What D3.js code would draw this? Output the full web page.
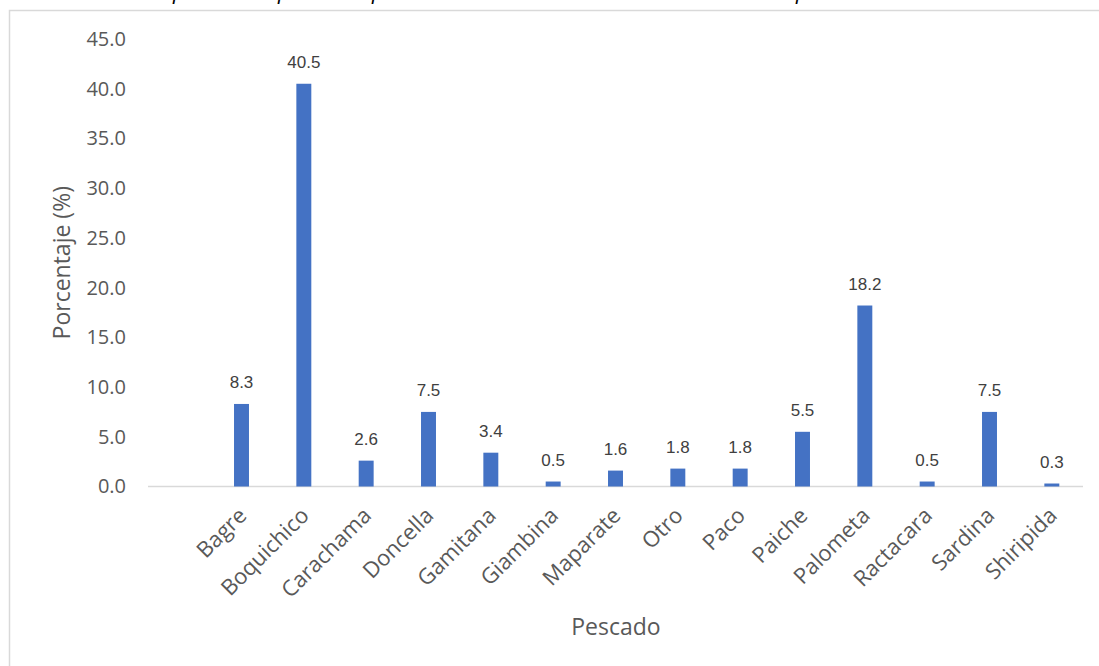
<!DOCTYPE html>
<html>
<head>
<meta charset="utf-8">
<script src="https://cdn.jsdelivr.net/npm/d3@7"></script>
<style>
  body { margin: 0; background: #fff; }
  #chart { width: 1099px; height: 666px; }
</style>
</head>
<body>
<div id="chart"></div>
<script>
// first slot is empty in the original sheet
const categories = ['', 'Bagre', 'Boquichico', 'Carachama', 'Doncella', 'Gamitana', 'Giambina',
    'Maparate', 'Otro', 'Paco', 'Paiche', 'Palometa', 'Ractacara', 'Sardina', 'Shiripida'];
const values = [null, 8.3, 40.5, 2.6, 7.5, 3.4, 0.5, 1.6, 1.8, 1.8, 5.5, 18.2, 0.5, 7.5, 0.3];
const yTicks = [0, 5, 10, 15, 20, 25, 30, 35, 40, 45];
const titleWords = ['preferencia', 'por', 'pescado', 'población'];
const titleX = [173, 278, 372, 796];

const width = 1099, height = 666;
const margin = { top: 39, right: 16, bottom: 179.5, left: 148 };

const svg = d3.select('#chart')
    .append('svg')
    .attr('width', width)
    .attr('height', height);

// chart frame (runs off the right and bottom edges)
svg.append('rect')
    .attr('x', 9.5)
    .attr('y', 10.5)
    .attr('width', 1200)
    .attr('height', 800)
    .attr('fill', 'none')
    .attr('stroke', '#d9d9d9')
    .attr('stroke-width', 1.5);

// cut-off title above the frame, only descenders show
svg.append('text')
    .attr('y', 0)
    .style('font-family', 'Liberation Sans, Arial, sans-serif')
    .style('font-style', 'italic')
    .style('font-size', '20px')
    .style('fill', '#000')
    .selectAll('tspan')
    .data(titleWords)
    .enter()
    .append('tspan')
    .attr('x', (d, i) => titleX[i])
    .text(d => d);

const x = d3.scaleBand()
    .domain(categories)
    .range([margin.left, width - margin.right])
    .padding(0);

const y = d3.scaleLinear()
    .domain([0, 45])
    .range([height - margin.bottom, margin.top]);

const barW = x.bandwidth() * 0.24;
const tickFont = 'Open Sans, sans-serif';

// y axis labels (no line, no gridlines)
const yAxis = svg.append('g')
    .attr('transform', `translate(${margin.left},0)`)
    .call(d3.axisLeft(y).tickValues(yTicks).tickSize(0).tickPadding(22).tickFormat(d3.format('.1f')));
yAxis.select('.domain').remove();
yAxis.selectAll('text')
    .style('font-family', tickFont)
    .style('font-size', '20px')
    .style('fill', '#595959');

// x axis line
svg.append('line')
    .attr('x1', margin.left)
    .attr('x2', width - margin.right)
    .attr('y1', y(0))
    .attr('y2', y(0))
    .attr('stroke', '#d9d9d9')
    .attr('stroke-width', 1.5);

// rotated category labels
svg.append('g')
    .selectAll('text')
    .data(categories)
    .enter()
    .append('text')
    .attr('transform', d => `translate(${x(d) + x.bandwidth() / 2 + 1},${y(0) + 25}) rotate(-45)`)
    .attr('text-anchor', 'end')
    .attr('dy', '0.35em')
    .style('font-family', tickFont)
    .style('font-size', '22px')
    .style('fill', '#595959')
    .text(d => d);

const bars = categories.map((c, i) => ({ cat: c, value: values[i] })).filter(d => d.value != null);

svg.append('g')
    .selectAll('rect')
    .data(bars)
    .enter()
    .append('rect')
    .attr('x', d => x(d.cat) + x.bandwidth() / 2 - barW / 2)
    .attr('y', d => y(d.value))
    .attr('width', barW)
    .attr('height', d => y(0) - y(d.value))
    .attr('fill', '#4472c4');

// value labels
svg.append('g')
    .selectAll('text')
    .data(bars)
    .enter()
    .append('text')
    .attr('x', d => x(d.cat) + x.bandwidth() / 2)
    .attr('y', d => y(d.value) - 16)
    .attr('text-anchor', 'middle')
    .style('font-family', 'Liberation Sans, Arial, sans-serif')
    .style('font-size', '17px')
    .style('fill', '#404040')
    .text(d => d.value.toFixed(1));

// axis titles
svg.append('text')
    .attr('transform', `translate(70,${(y(0) + y(45)) / 2}) rotate(-90)`)
    .attr('text-anchor', 'middle')
    .style('font-family', tickFont)
    .style('font-size', '23px')
    .style('fill', '#595959')
    .text('Porcentaje (%)');

svg.append('text')
    .attr('x', 616)
    .attr('y', 635)
    .attr('text-anchor', 'middle')
    .style('font-family', tickFont)
    .style('font-size', '23px')
    .style('fill', '#595959')
    .text('Pescado');
</script>
</body>
</html>
